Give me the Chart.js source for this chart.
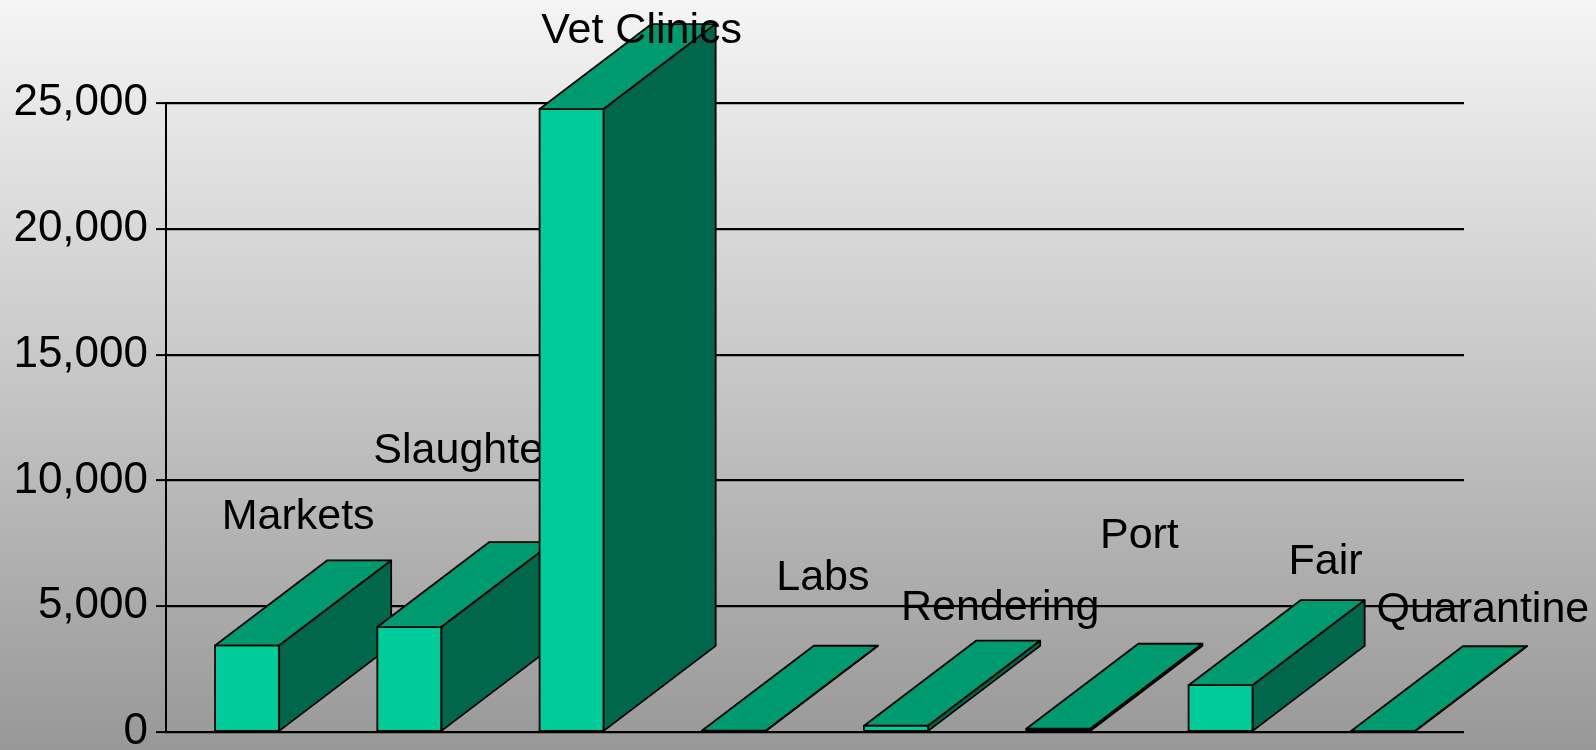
<!DOCTYPE html>
<html>
<head>
<meta charset="utf-8">
<script src="https://cdn.jsdelivr.net/npm/chart.js@4.4.1/dist/chart.umd.min.js"></script>
<style>
  html, body { margin: 0; padding: 0; background: #ccc; }
  #wrap { width: 1596px; height: 750px; }
</style>
</head>
<body>
<div id="wrap"><canvas id="c" width="1596" height="750"></canvas></div>
<script>
// values
const categories = ["Markets", "Slaughter", "Vet Clinics", "Labs", "Rendering", "Port", "Fair", "Quarantine"];
const values = [3440, 4170, 24760, 50, 250, 130, 1860, 30];
const yMin = 0, yMax = 25000, yStep = 5000;

const FONT = '"Liberation Sans", Arial, sans-serif';

// gradient backdrop, light at top, darker toward the bottom
const backdrop = {
  id: "backdrop",
  beforeDraw(chart) {
    const { ctx, width, height } = chart;
    const g = ctx.createLinearGradient(0, 0, 0, height);
    g.addColorStop(0, "#f5f5f5");
    g.addColorStop(1, "#989898");
    ctx.save();
    ctx.fillStyle = g;
    ctx.fillRect(0, 0, width, height);
    ctx.restore();
  },
};

// extruded bars: front face from the bar element, plus top and side faces, then the category label
const bar3d = {
  id: "bar3d",
  afterDatasetsDraw(chart, args, o) {
    const ctx = chart.ctx;
    const ys = chart.scales.y;
    const meta = chart.getDatasetMeta(0);
    const poly = (pts, fill) => {
      ctx.beginPath();
      ctx.moveTo(pts[0][0], pts[0][1]);
      pts.slice(1).forEach(p => ctx.lineTo(p[0], p[1]));
      ctx.closePath();
      ctx.fillStyle = fill;
      ctx.fill();
      ctx.stroke();
    };
    ctx.save();
    ctx.lineWidth = o.lineWidth;
    ctx.strokeStyle = "#000";
    ctx.lineJoin = "round";
    meta.data.forEach((bar, i) => {
      const p = bar.getProps(["x", "y", "base", "width"], true);
      const l = p.x - p.width / 2, r = p.x + p.width / 2, t = p.y, b = p.base;
      poly([[l, t], [r, t], [r, b], [l, b]], o.front);
      poly([[l, t], [l + o.dx, t + o.dy], [r + o.dx, t + o.dy], [r, t]], o.top);
      poly([[r, t], [r + o.dx, t + o.dy], [r + o.dx, b + o.dy], [r, b]], o.side);
      const lp = o.labels[i];
      ctx.fillStyle = "#000";
      ctx.font = o.labelFont;
      ctx.textAlign = "center";
      ctx.textBaseline = "alphabetic";
      ctx.fillText(chart.data.labels[i], p.x + lp.dx, ys.getPixelForValue(lp.v) + 15);
    });
    ctx.restore();
  },
};

new Chart(document.getElementById("c"), {
  type: "bar",
  data: {
    labels: categories,
    datasets: [{
      data: values,
      backgroundColor: "#00cc99",
      borderColor: "#000",
      borderWidth: 1.5,
      barPercentage: 0.395,
      categoryPercentage: 1,
    }],
  },
  options: {
    responsive: false,
    animation: false,
    devicePixelRatio: 1,
    layout: { padding: { left: 0, right: 132, top: 103, bottom: 18 } },
    plugins: {
      legend: { display: false },
      tooltip: { enabled: false },
      bar3d: {
        dx: 112, dy: -85, lineWidth: 1.8,
        front: "#00cc99", top: "#009a70", side: "#00664c",
        labelFont: "43px " + FONT,
        labels: [
          { dx: 51, v: 8660 }, { dx: 56, v: 11280 }, { dx: 70, v: 27990 }, { dx: 89, v: 6240 },
          { dx: 104, v: 5060 }, { dx: 81, v: 7890 }, { dx: 105, v: 6880 }, { dx: 100, v: 4980 },
        ],
      },
    },
    scales: {
      x: {
        display: false,
      },
      y: {
        min: yMin, max: yMax,
        afterFit: s => { s.width = 166; s.paddingTop = 0; s.paddingBottom = 0; },
        ticks: {
          stepSize: yStep,
          color: "#000",
          padding: 8,
          font: { family: FONT, size: 44 },
          callback: v => v.toLocaleString("en-US"),
        },
        grid: { color: "#000", lineWidth: 2.2, tickLength: 10, tickColor: "#000", tickWidth: 2 },
        border: { display: true, color: "#000", width: 2 },
      },
    },
  },
  plugins: [backdrop, bar3d],
});
</script>
</body>
</html>
